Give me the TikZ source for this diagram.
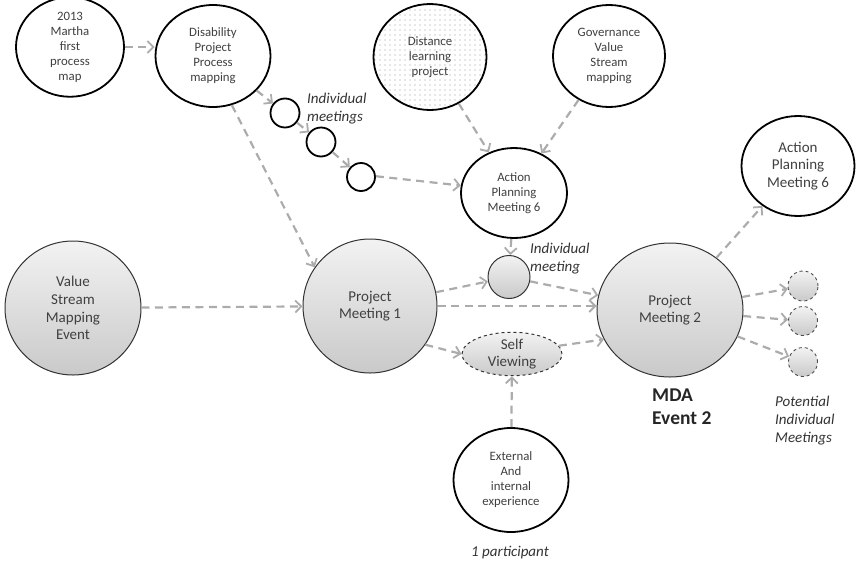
\documentclass[tikz,border=0pt]{standalone}
\usepackage{fontspec}
\setmainfont{Carlito}
\usetikzlibrary{shapes.geometric,arrows.meta,patterns.meta}
\tikzdeclarepattern{
  name=sparsedots,
  type=uncolored,
  bottom left={(-.6pt,-.6pt)},
  top right={(.6pt,.6pt)},
  tile size={(5pt,5pt)},
  code={\fill (0pt,0pt) circle (.55pt);}
}
\begin{document}
\begin{tikzpicture}[x=1pt,y=-1pt,
  whitenode/.style={ellipse,draw=black,line width=1.8pt,fill=white,inner sep=0pt,align=center,
    text=black!75,font=\fontsize{12.8}{15}\selectfont},
  whitebig/.style={whitenode,font=\fontsize{15}{17.7}\selectfont},
  graynode/.style={ellipse,draw=black!80,line width=1pt,top color=gray!10,bottom color=gray!42,
    inner sep=0pt,align=center,text=black!75,font=\fontsize{15}{17.7}\selectfont},
  dotnode/.style={whitenode,pattern=sparsedots,pattern color=black!40},
  smallw/.style={circle,draw=black,line width=1.8pt,fill=white,inner sep=0pt,minimum size=#1},
  smallg/.style={circle,draw=black!70,line width=0.9pt,dashed,top color=gray!10,bottom color=gray!42,
    inner sep=0pt,minimum size=#1},
  arr/.style={draw=gray!65,line width=2.2pt,dash pattern=on 8pt off 5.5pt,
    -{Straight Barb[length=6pt,width=12pt,line width=1.8pt]}},
  lab/.style={align=left,text=black!80,font=\fontsize{15}{18}\selectfont\itshape,inner sep=0pt}
]
\useasboundingbox (0,0) rectangle (856,565);

% nodes
\node[whitenode,minimum width=108pt,minimum height=80pt] (mar) at (70,47) {2013\\Martha\\first\\process\\map};
\node[whitenode,minimum width=115pt,minimum height=102pt] (dis) at (213,56) {Disability\\Project\\Process\\mapping};
\node[smallw=29pt] (c1) at (285,113) {};
\node[smallw=29pt] (c2) at (321,142) {};
\node[smallw=28pt] (c3) at (361,177) {};
\node[dotnode,minimum width=113pt,minimum height=106pt] (dl) at (430,57) {Distance\\learning\\project};
\node[whitenode,minimum width=112pt,minimum height=102pt] (gov) at (609,56) {Governance\\Value\\Stream\\mapping};
\node[whitenode,minimum width=106pt,minimum height=90pt] (apm) at (514,193) {Action\\Planning\\Meeting 6};
\node[whitebig,minimum width=113pt,minimum height=100pt] (apr) at (798,166) {Action\\Planning\\Meeting 6};
\node[graynode,minimum width=136pt,minimum height=134pt] (vsm) at (73,308) {Value\\Stream\\Mapping\\Event};
\node[graynode,minimum width=134pt,minimum height=134pt] (pm1) at (370,306) {Project\\Meeting 1};
\node[graynode,minimum width=42pt,minimum height=43pt] (ind) at (509,277) {};
\node[graynode,minimum width=146pt,minimum height=134pt] (pm2) at (670,310) {Project\\Meeting 2};
\node[graynode,dashed,minimum width=100pt,minimum height=38pt] (sv) at (512,354) {Self\\Viewing};
\node[smallg=30pt] (r1) at (803,286) {};
\node[smallg=29pt] (r2) at (803,321) {};
\node[smallg=29pt] (r3) at (803,362) {};
\node[whitenode,minimum width=115pt,minimum height=104pt] (ext) at (511,480) {External\\And\\internal\\experience};

% labels
\node[lab,anchor=west] (l1) at (307,109) {Individual\\meetings};
\node[lab,anchor=west] (l2) at (530,259) {Individual\\meeting};
\node[align=left,anchor=west,inner sep=0pt,text=black!85,font=\fontsize{19.5}{23}\selectfont\bfseries] (mda) at (652,407) {MDA\\Event 2};
\node[lab,anchor=west] (l3) at (775,421) {Potential\\Individual\\Meetings};
\node[lab] (l4) at (510,553) {1 participant};

% connectors
\draw[arr] (mar.east) -- (mar.east -| dis.west);
\draw[arr] (dis) -- (c1);
\draw[arr] (c1) -- (c2);
\draw[arr] (c2) -- (c3);
\draw[arr] (c3.3) -- (apm.172);
\draw[arr] (dis.-69) -- (pm1.145);
\draw[arr] (dl) -- (apm);
\draw[arr] (gov) -- (apm);
\draw[arr] (apm) -- (ind);
\draw[arr] (vsm) -- (pm1);
\draw[arr] (pm1) -- (ind);
\draw[arr] (ind) -- (pm2);
\draw[arr] (pm1.east) -- (pm1.east -| pm2.west);
\draw[arr] (pm1.-35) -- (sv.west);
\draw[arr] (sv.10) -- (pm2.204);
\draw[arr] (ext) -- (sv);
\draw[arr] (pm2) -- (apr);
\draw[arr] (pm2) -- (r1);
\draw[arr] (pm2) -- (r2);
\draw[arr] (pm2) -- (r3);
\end{tikzpicture}
\end{document}
